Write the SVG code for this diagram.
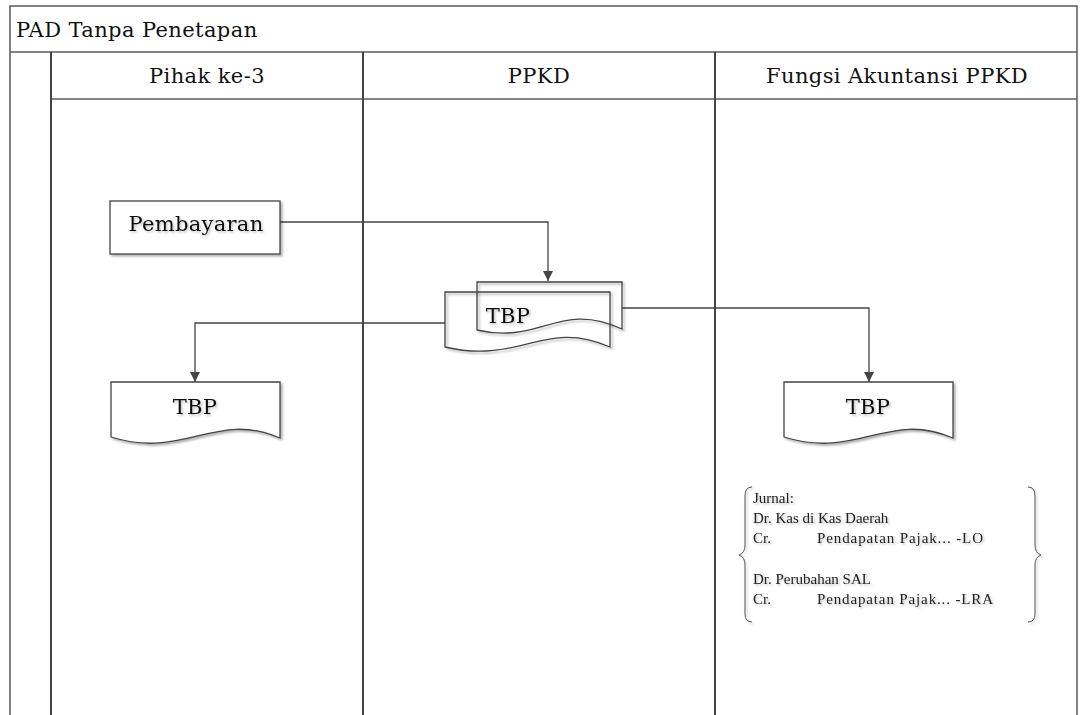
<svg xmlns="http://www.w3.org/2000/svg" width="1086" height="715" viewBox="0 0 1086 715">
<defs>
<style>
.frame{fill:none;stroke:#5a5a5a;stroke-width:1.5}
.lane{fill:none;stroke:#444;stroke-width:2}
.hdr{font-family:"DejaVu Serif","Liberation Serif",serif;font-size:21px;letter-spacing:0.4px;fill:#111}
.shape{fill:#fff;stroke:#444;stroke-width:1.3}
.doc{fill:none;stroke:#444;stroke-width:1.3}
.lbl{font-family:"DejaVu Serif","Liberation Serif",serif;font-size:21px;letter-spacing:0.3px;fill:#111;text-anchor:middle}
.jr{font-family:"Liberation Serif","Times New Roman",serif;font-size:15px;fill:#222}
.conn{fill:none;stroke:#444;stroke-width:1.3}
.brace{fill:none;stroke:#555;stroke-width:1}
</style>
<filter id="sh" x="-10%" y="-10%" width="130%" height="140%">
<feDropShadow dx="2" dy="2" stdDeviation="1" flood-color="#000" flood-opacity="0.3"/>
</filter>
<filter id="tsh" x="-10%" y="-20%" width="130%" height="160%">
<feDropShadow dx="1.5" dy="1.5" stdDeviation="0.8" flood-color="#000" flood-opacity="0.25"/>
</filter>
<marker id="arr" viewBox="0 0 10 10" refX="10" refY="5" markerWidth="10" markerHeight="10" markerUnits="userSpaceOnUse" orient="auto">
<path d="M0,0 L10,5 L0,10 Z" fill="#444"/>
</marker>
</defs>
<rect width="1086" height="715" fill="#fff"/>
<g id="pool">
<path class="frame" d="M10,716 V6 H1077 V716"/>
<line class="frame" x1="10" y1="52" x2="1077" y2="52"/>
<line class="frame" x1="51" y1="99" x2="1077" y2="99"/>
<line class="lane" x1="51" y1="52" x2="51" y2="716"/>
<line class="lane" x1="363" y1="52" x2="363" y2="716"/>
<line class="lane" x1="715" y1="52" x2="715" y2="716"/>
<text class="hdr" x="16" y="37">PAD Tanpa Penetapan</text>
<text class="hdr" x="207" y="83" text-anchor="middle">Pihak ke-3</text>
<text class="hdr" x="539" y="83" text-anchor="middle">PPKD</text>
<text class="hdr" x="897" y="83" text-anchor="middle">Fungsi Akuntansi PPKD</text>
</g>
<g id="connectors">
<polyline class="conn" points="280,222 548,222 548,281" marker-end="url(#arr)"/>
<polyline class="conn" points="445,323 195,323 195,382" marker-end="url(#arr)"/>
<polyline class="conn" points="622,308 869,308 869,382" marker-end="url(#arr)"/>
</g>
<g id="pembayaran">
<rect class="shape" x="110" y="201" width="170" height="53" filter="url(#sh)"/>
<text class="lbl" x="196" y="231" filter="url(#tsh)">Pembayaran</text>
</g>
<g id="tbp-ppkd">
<path class="doc" filter="url(#sh)" d="M477,282 H622 V329 C560,300 540,345 477,330 Z"/>
<path class="doc" filter="url(#sh)" d="M445,292 H610 V347 C545,318 520,365 445,347 Z"/>
<text class="lbl" x="508" y="323" filter="url(#tsh)">TBP</text>
</g>
<g id="tbp-pihak">
<path class="shape" filter="url(#sh)" d="M111,382 H280 V438 C215,410 185,460 111,437 Z"/>
<text class="lbl" x="195" y="414" filter="url(#tsh)">TBP</text>
</g>
<g id="tbp-akuntansi">
<path class="shape" filter="url(#sh)" d="M784,382 H953 V438 C888,410 858,460 784,437 Z"/>
<text class="lbl" x="868" y="414" filter="url(#tsh)">TBP</text>
</g>
<g id="jurnal">
<path class="brace" filter="url(#tsh)" d="M752,487 Q745,487 745,496 V545 Q745,553 739,555 Q745,557 745,565 V614 Q745,622 752,622"/>
<path class="brace" filter="url(#tsh)" d="M1028,487 Q1035,487 1035,496 V545 Q1035,553 1041,555 Q1035,557 1035,565 V614 Q1035,622 1028,622"/>
<g filter="url(#tsh)">
<text class="jr" x="753" y="503">Jurnal:</text>
<text class="jr" x="753" y="523">Dr. Kas di Kas Daerah</text>
<text class="jr" x="753" y="543">Cr.</text>
<text class="jr" x="817" y="543" textLength="166" lengthAdjust="spacing">Pendapatan Pajak... -LO</text>
<text class="jr" x="753" y="584">Dr. Perubahan SAL</text>
<text class="jr" x="753" y="604">Cr.</text>
<text class="jr" x="817" y="604" textLength="176" lengthAdjust="spacing">Pendapatan Pajak... -LRA</text>
</g>
</g>
</svg>
